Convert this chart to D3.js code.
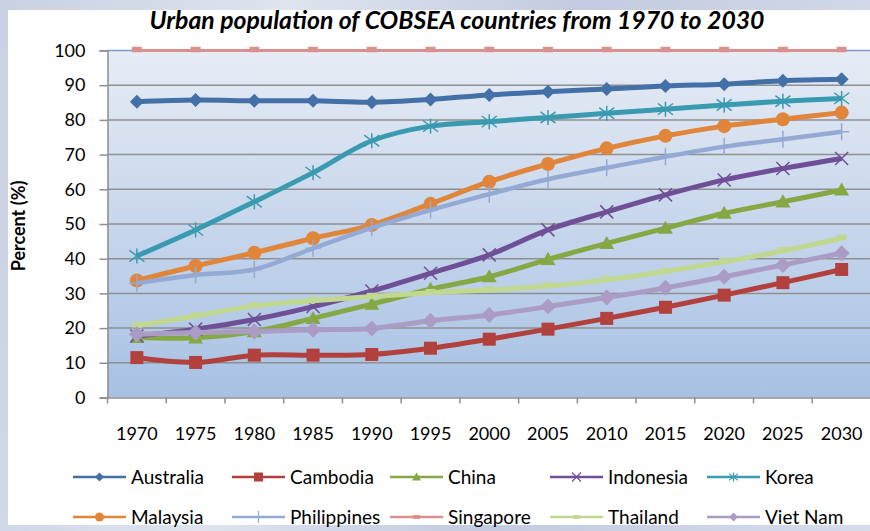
<!DOCTYPE html>
<html>
<head>
<meta charset="utf-8">
<script src="https://cdn.jsdelivr.net/npm/d3@7"></script>
<style>
  html, body { margin: 0; padding: 0; }
  body {
    width: 870px; height: 531px; overflow: hidden;
    background: linear-gradient(100deg, #c9d1e2 0%, #dfe4ee 30%, #c2cbe0 60%, #d6dcea 100%);
  }
  svg { display: block; font-family: Lato, "Noto Sans", sans-serif; }
</style>
</head>
<body>
<svg id="chart"></svg>
<script>
const years = ["1970", "1975", "1980", "1985", "1990", "1995", "2000", "2005", "2010", "2015", "2020", "2025", "2030"];
const yTicks = [0, 10, 20, 30, 40, 50, 60, 70, 80, 90, 100];

const australia   = [85.2, 85.7, 85.5, 85.5, 85.1, 85.9, 87.2, 88.1, 88.9, 89.8, 90.3, 91.3, 91.7];
const cambodia    = [11.5, 10.1, 12.2, 12.2, 12.4, 14.2, 16.8, 19.7, 22.8, 26.0, 29.5, 33.1, 36.9];
const china       = [17.3, 17.2, 19.0, 22.8, 26.9, 31.2, 34.8, 39.8, 44.4, 48.8, 53.1, 56.4, 59.8];
const indonesia   = [17.7, 19.7, 22.5, 26.2, 30.7, 35.8, 41.1, 48.3, 53.5, 58.4, 62.7, 66.0, 68.9];
const korea       = [40.8, 48.3, 56.4, 64.8, 74.0, 78.2, 79.5, 80.7, 81.9, 83.1, 84.3, 85.4, 86.2];
const malaysia    = [33.7, 37.9, 41.7, 45.9, 49.7, 55.8, 62.2, 67.3, 71.8, 75.4, 78.2, 80.2, 82.1];
const philippines = [32.9, 35.3, 36.9, 43.0, 48.9, 54.0, 58.6, 62.9, 66.2, 69.4, 72.3, 74.4, 76.6];
const singapore   = [100, 100, 100, 100, 100, 100, 100, 100, 100, 100, 100, 100, 100];
const thailand    = [20.7, 23.5, 26.4, 27.9, 29.1, 30.2, 31.0, 32.1, 33.9, 36.3, 39.1, 42.3, 45.9];
const vietnam     = [18.2, 18.7, 19.0, 19.5, 19.9, 22.1, 23.8, 26.2, 28.8, 31.6, 34.8, 38.2, 41.6];

const series = [
  {name: "Australia", values: australia},
  {name: "Cambodia", values: cambodia},
  {name: "China", values: china},
  {name: "Indonesia", values: indonesia},
  {name: "Korea", values: korea},
  {name: "Malaysia", values: malaysia},
  {name: "Philippines", values: philippines},
  {name: "Singapore", values: singapore},
  {name: "Thailand", values: thailand},
  {name: "Viet Nam", values: vietnam}
];

// line colour / width / marker type per series
const styles = {
  "Australia":   {color: "#4470a8", width: 5,   marker: "diamond", size: 7},
  "Cambodia":    {color: "#b2413e", width: 5,   marker: "square",  size: 6.5},
  "China":       {color: "#86a844", width: 5,   marker: "triangle", size: 7.5},
  "Indonesia":   {color: "#6f5096", width: 5,   marker: "x",       size: 6.5},
  "Korea":       {color: "#3a9bb0", width: 5,   marker: "star",    size: 7.5},
  "Malaysia":    {color: "#e0853a", width: 5,   marker: "circle",  size: 7},
  "Philippines": {color: "#94aad4", width: 4.5, marker: "plus",    size: 8.5},
  "Singapore":   {color: "#d9908e", width: 3,   marker: "dash",    size: 5},
  "Thailand":    {color: "#c0d890", width: 5,   marker: "dash",    size: 5}, 
  "Viet Nam":    {color: "#ab9cc6", width: 5,   marker: "diamond", size: 8}
};

const W = 870, H = 531;
const margin = {left: 107.5, right: -1, top: 50.5, bottom: 133.5};

const svg = d3.select("#chart").attr("width", W).attr("height", H);

const defs = svg.append("defs");
const grad = defs.append("linearGradient").attr("id", "plotbg")
  .attr("x1", 0).attr("y1", 0).attr("x2", 0).attr("y2", 1);
grad.append("stop").attr("offset", "0%").attr("stop-color", "#e7ecf5");
grad.append("stop").attr("offset", "100%").attr("stop-color", "#a7c1e4");

// white chart area
svg.append("rect").attr("x", 8).attr("y", 10).attr("width", W - 8).attr("height", 515).attr("fill", "#fff");

const x = d3.scaleBand().domain(years).range([margin.left, W - margin.right]).paddingInner(0).paddingOuter(0);
const y = d3.scaleLinear().domain([0, 100]).range([H - margin.bottom, margin.top]);

// plot area
svg.append("rect")
  .attr("x", margin.left).attr("y", y(100))
  .attr("width", x.range()[1] - margin.left).attr("height", y(0) - y(100))
  .attr("fill", "url(#plotbg)");

// gridlines
svg.append("g").selectAll("line").data(yTicks.slice(1)).join("line")
  .attr("x1", margin.left).attr("x2", x.range()[1])
  .attr("y1", d => y(d)).attr("y2", d => y(d))
  .attr("stroke", d => d === 100 ? "#7c9cc9" : "#8f8f8f").attr("stroke-width", 1.5);

// y axis
const yAxis = svg.append("g").attr("transform", `translate(${margin.left},0)`)
  .call(d3.axisLeft(y).tickValues(yTicks).tickSize(8).tickPadding(14));
yAxis.select(".domain").attr("stroke", "#8f8f8f").attr("stroke-width", 1.5);
yAxis.selectAll(".tick line").attr("stroke", "#8f8f8f").attr("stroke-width", 1.5);
yAxis.selectAll(".tick text").attr("font-size", 18).attr("fill", "#000").attr("font-family", "Lato");

// x axis
const xAxis = svg.append("g").attr("transform", `translate(0,${y(0)})`)
  .call(d3.axisBottom(x).tickSize(0).tickPadding(30));
xAxis.select(".domain").attr("stroke", "#8f8f8f").attr("stroke-width", 1.5);
xAxis.selectAll(".tick text").attr("font-size", 18).attr("fill", "#000").attr("font-family", "Lato");
svg.append("g").selectAll("line").data(years.concat(["end"])).join("line")
  .attr("x1", (d, i) => margin.left + i * x.step()).attr("x2", (d, i) => margin.left + i * x.step())
  .attr("y1", y(0)).attr("y2", y(0) + 6)
  .attr("stroke", "#8f8f8f").attr("stroke-width", 1.5);

// axis title
svg.append("text")
  .attr("transform", `translate(25,${(y(0) + y(100)) / 2 + 2}) rotate(-90)`)
  .attr("text-anchor", "middle")
  .attr("font-size", 18).attr("font-weight", "bold").attr("fill", "#000")
  .text("Percent (%)");

// chart title
svg.append("text")
  .attr("x", 457).attr("y", 29)
  .attr("text-anchor", "middle")
  .attr("font-size", 24).attr("font-weight", "bold").attr("font-style", "italic")
  .attr("textLength", 615).attr("lengthAdjust", "spacingAndGlyphs")
  .attr("fill", "#000")
  .text("Urban population of COBSEA countries from 1970 to 2030");

function markerPath(type, s) {
  switch (type) {
    case "diamond": return `M0,${-s}L${s},0L0,${s}L${-s},0Z`;
    case "square": return `M${-s},${-s}H${s}V${s}H${-s}Z`;
    case "triangle": return `M0,${-s}L${s},${s * 0.75}L${-s},${s * 0.75}Z`;
    case "x": return `M${-s},${-s}L${s},${s}M${s},${-s}L${-s},${s}`;
    case "star": return `M${-s},${-s * 0.75}L${s},${s * 0.75}M${s},${-s * 0.75}L${-s},${s * 0.75}M0,${-s}V${s}`;
    case "plus": return `M0,${-s}V${s}M${-s * 0.9},0H${s * 0.9}`;
    case "dash": return `M${-s},${-s * 0.55}H${s}V${s * 0.55}H${-s}Z`;
    default: return "";
  }
}
const strokeOnly = t => t === "x" || t === "star" || t === "plus";

const line = d3.line()
  .x((d, i) => x(years[i]) + x.bandwidth() / 2)
  .y(d => y(d))
  .curve(d3.curveCatmullRom.alpha(0.5));

const gSeries = svg.append("g").selectAll("g").data(series).join("g");
gSeries.append("path")
  .attr("d", d => line(d.values))
  .attr("fill", "none")
  .attr("stroke", d => styles[d.name].color)
  .attr("stroke-width", d => styles[d.name].width)
  .attr("stroke-linejoin", "round");
gSeries.each(function(s) {
  const st = styles[s.name];
  d3.select(this).selectAll(".mk").data(s.values).join(st.marker === "circle" ? "circle" : "path")
    .attr("class", "mk")
    .call(sel => {
      if (st.marker === "circle") {
        sel.attr("cx", (d, i) => x(years[i]) + x.bandwidth() / 2).attr("cy", d => y(d)).attr("r", st.size);
      } else {
        sel.attr("transform", (d, i) => `translate(${x(years[i]) + x.bandwidth() / 2},${y(d) - (st.marker === "dash" ? 1 : 0)})`)
          .attr("d", markerPath(st.marker, st.size));
      }
    })
    .attr("fill", strokeOnly(st.marker) ? "none" : st.color)
    .attr("stroke", st.color)
    .attr("stroke-width", strokeOnly(st.marker) ? 1.5 : 0);
});

// legend
const legendCols = [73, 232, 390, 550, 707];
const legendRows = [477, 517];
const lg = svg.append("g").selectAll("g").data(series).join("g")
  .attr("transform", (d, i) => `translate(${legendCols[i % 5]},${legendRows[Math.floor(i / 5)]})`);
lg.append("line").attr("x1", 0).attr("x2", 53).attr("y1", 0).attr("y2", 0)
  .attr("stroke", d => styles[d.name].color).attr("stroke-width", 2.5);
lg.each(function(d) {
  const st = styles[d.name];
  const s = st.marker === "plus" ? 6 : st.marker === "dash" ? 3.5 : 4.5;
  if (st.marker === "circle") {
    d3.select(this).append("circle").attr("cx", 26.5).attr("r", 4.5).attr("fill", st.color);
  } else {
    d3.select(this).append("path").attr("transform", "translate(26.5,0)")
      .attr("d", markerPath(st.marker, s))
      .attr("fill", strokeOnly(st.marker) ? "none" : st.color)
      .attr("stroke", st.color).attr("stroke-width", strokeOnly(st.marker) ? 1.2 : 0);
  }
});
lg.append("text").attr("x", 58).attr("dy", "0.36em")
  .attr("font-size", 19).attr("fill", "#000")
  .text(d => d.name);
</script>
</body>
</html>
